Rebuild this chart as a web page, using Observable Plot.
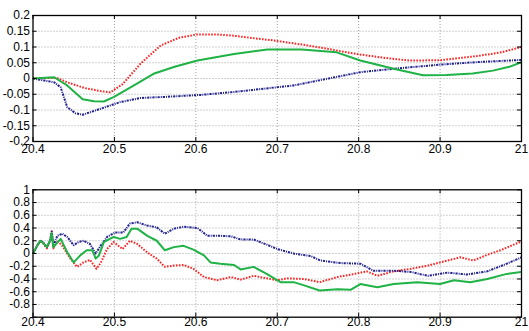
<!DOCTYPE html>
<html><head><meta charset="utf-8">
<script src="https://cdn.jsdelivr.net/npm/d3@7"></script>
<script src="https://cdn.jsdelivr.net/npm/@observablehq/plot@0.6"></script>
<style>body{margin:0;background:#fff} #c svg{display:block;overflow:visible}</style>
</head><body><div id="c"></div><script>
const xTicks = [20.4, 20.5, 20.6, 20.7, 20.8, 20.9, 21];

// Top panel
const topYTicks = [-0.2, -0.15, -0.1, -0.05, 0, 0.05, 0.1, 0.15, 0.2];
const topRedX = [20.4,20.42,20.43,20.442,20.463,20.483,20.495,20.51,20.532,20.557,20.58,20.602,20.625,20.646,20.677,20.692,20.738,20.797,20.83,20.862,20.9,20.945,20.975,21];
const topRedY = [0,0.002,0.001,-0.012,-0.03,-0.04,-0.044,-0.018,0.047,0.105,0.13,0.14,0.14,0.136,0.126,0.122,0.105,0.078,0.066,0.057,0.058,0.071,0.083,0.1];
const topGreenX = [20.4,20.426,20.442,20.461,20.475,20.487,20.499,20.524,20.548,20.575,20.602,20.647,20.688,20.73,20.773,20.802,20.843,20.879,20.908,20.94,20.965,20.985,21];
const topGreenY = [0,0.004,-0.022,-0.066,-0.072,-0.073,-0.059,-0.022,0.015,0.038,0.057,0.078,0.092,0.092,0.083,0.057,0.031,0.01,0.011,0.016,0.025,0.037,0.052];
const topBlueX = [20.4,20.426,20.434,20.442,20.452,20.461,20.483,20.507,20.532,20.565,20.606,20.646,20.692,20.72,20.761,20.802,20.843,20.9,20.945,21];
const topBlueY = [0,-0.012,-0.028,-0.091,-0.11,-0.115,-0.096,-0.075,-0.062,-0.058,-0.052,-0.043,-0.03,-0.022,-0.001,0.02,0.031,0.044,0.052,0.059];

// Bottom panel
const botYTicks = [-1, -0.8, -0.6, -0.4, -0.2, 0, 0.2, 0.4, 0.6, 0.8, 1];
const botYLabels = [-0.8, -0.6, -0.4, -0.2, 0, 0.2, 0.4, 0.6, 0.8, 1];
const botBlueX = [20.4,20.405,20.409,20.413,20.417,20.421,20.423,20.425,20.43,20.436,20.442,20.45,20.456,20.462,20.47,20.477,20.483,20.491,20.501,20.511,20.519,20.528,20.54,20.552,20.562,20.573,20.585,20.602,20.614,20.626,20.643,20.655,20.671,20.687,20.7,20.72,20.741,20.753,20.777,20.802,20.818,20.843,20.864,20.885,20.909,20.933,20.958,20.982,21];
const botBlueY = [0,0.12,0.2,0.17,0.1,0.2,0.34,0.12,0.28,0.31,0.26,0.13,0.18,0.2,0.15,0,0.12,0.26,0.33,0.33,0.47,0.49,0.44,0.41,0.31,0.39,0.42,0.40,0.28,0.28,0.27,0.22,0.22,0.14,0.07,0.0,-0.04,-0.11,-0.15,-0.16,-0.27,-0.27,-0.29,-0.35,-0.30,-0.33,-0.28,-0.16,-0.06];
const botRedX = [20.4,20.405,20.409,20.413,20.417,20.421,20.423,20.425,20.43,20.436,20.446,20.454,20.462,20.47,20.478,20.483,20.491,20.499,20.51,20.519,20.528,20.54,20.552,20.562,20.573,20.585,20.597,20.61,20.626,20.643,20.655,20.671,20.687,20.7,20.712,20.733,20.752,20.774,20.795,20.81,20.823,20.843,20.864,20.885,20.909,20.925,20.941,20.958,20.974,21];
const botRedY = [0,0.12,0.2,0.15,0.08,0.2,0.35,0.08,0.2,0.12,-0.08,-0.21,-0.14,-0.10,-0.24,-0.15,0.07,0.18,0.07,0.2,0.15,0.02,-0.08,-0.21,-0.19,-0.18,-0.24,-0.37,-0.42,-0.37,-0.41,-0.35,-0.39,-0.42,-0.39,-0.40,-0.45,-0.37,-0.32,-0.28,-0.35,-0.28,-0.24,-0.19,-0.11,-0.06,-0.11,-0.02,0.05,0.19];
const botGreenX = [20.4,20.405,20.409,20.413,20.417,20.421,20.423,20.425,20.434,20.442,20.45,20.458,20.466,20.473,20.477,20.481,20.487,20.499,20.507,20.515,20.521,20.528,20.54,20.552,20.562,20.573,20.585,20.597,20.61,20.618,20.63,20.647,20.655,20.671,20.687,20.704,20.72,20.733,20.752,20.774,20.79,20.802,20.823,20.843,20.872,20.9,20.917,20.937,20.958,20.982,21];
const botGreenY = [0,0.12,0.2,0.16,0.1,0.2,0.32,0.1,0.23,0.02,-0.14,-0.03,0.05,0.05,-0.08,-0.03,0.18,0.26,0.23,0.26,0.39,0.39,0.28,0.2,0.05,0.1,0.12,0.06,-0.03,-0.14,-0.16,-0.18,-0.25,-0.21,-0.32,-0.45,-0.45,-0.50,-0.58,-0.56,-0.57,-0.48,-0.53,-0.48,-0.45,-0.48,-0.42,-0.45,-0.40,-0.32,-0.29];

const RED = "#ff2424", GREEN = "#1fb245", BLUE = "#22228f";
const zip = (xs, ys) => xs.map((x, i) => ({x, y: ys[i]}));

function panel({height, mt, mb, yTicks, yLabels, series, xPad}) {
  const W = 529, ml = 32.5, mr = 8;
  const yd = [yTicks[0], yTicks[yTicks.length - 1]];
  const xd = [xTicks[0], xTicks[xTicks.length - 1]];
  const ph = height - mt - mb, pw = W - ml - mr;
  const ty = (yd[1] - yd[0]) * 4 / ph;
  const tx = (xd[1] - xd[0]) * 4 / pw;
  const grid = {stroke: "#8c8c8c", strokeDasharray: "1,2", strokeWidth: 0.8};
  const tk = {stroke: "black", strokeWidth: 1};
  return Plot.plot({
    width: W, height, marginLeft: ml, marginRight: mr, marginTop: mt, marginBottom: mb,
    style: {fontFamily: "'Liberation Sans', Arial, sans-serif", fontSize: "12px", background: "white", color: "black"},
    x: {domain: xd},
    y: {domain: yd},
    marks: [
      Plot.ruleX(xTicks.slice(1, -1), grid),
      Plot.ruleY(yTicks.slice(1, -1), grid),
      ...series.map(s => Plot.line(zip(s.x, s.y), {x: "x", y: "y", stroke: s.color, strokeWidth: s.w, strokeDasharray: s.dash, strokeLinecap: "butt", clip: true})),
      Plot.ruleX(xTicks, {x: d => d, y1: yd[0], y2: yd[0] + ty, ...tk}),
      Plot.ruleX(xTicks, {x: d => d, y1: yd[1], y2: yd[1] - ty, ...tk}),
      Plot.ruleY(yTicks, {y: d => d, x1: xd[0], x2: xd[0] + tx, ...tk}),
      Plot.ruleY(yTicks, {y: d => d, x1: xd[1], x2: xd[1] - tx, ...tk}),
      Plot.frame({stroke: "black", strokeWidth: 1.3}),
      Plot.axisX(xTicks, {tickSize: 0, tickPadding: xPad, tickFormat: d => String(d), label: null}),
      Plot.axisY(yLabels, {tickSize: 0, tickPadding: 3, tickFormat: d => String(d), label: null})
    ]
  });
}

const c = document.getElementById("c");
c.appendChild(panel({
  height: 165, mt: 15, mb: 24, yTicks: topYTicks, yLabels: topYTicks, xPad: 2.5,
  series: [
    {x: topRedX, y: topRedY, color: RED, w: 2, dash: "1.6,1.4"},
    {x: topBlueX, y: topBlueY, color: BLUE, w: 2, dash: "2.2,1,1,1"},
    {x: topGreenX, y: topGreenY, color: GREEN, w: 2, dash: null}
  ]
}));
c.appendChild(panel({
  height: 166, mt: 24.3, mb: 14.3, yTicks: botYTicks, yLabels: botYLabels, xPad: 0,
  series: [
    {x: botRedX, y: botRedY, color: RED, w: 2, dash: "1.6,1.4"},
    {x: botBlueX, y: botBlueY, color: BLUE, w: 2, dash: "2.2,1,1,1"},
    {x: botGreenX, y: botGreenY, color: GREEN, w: 2, dash: null}
  ]
}));
</script></body></html>
